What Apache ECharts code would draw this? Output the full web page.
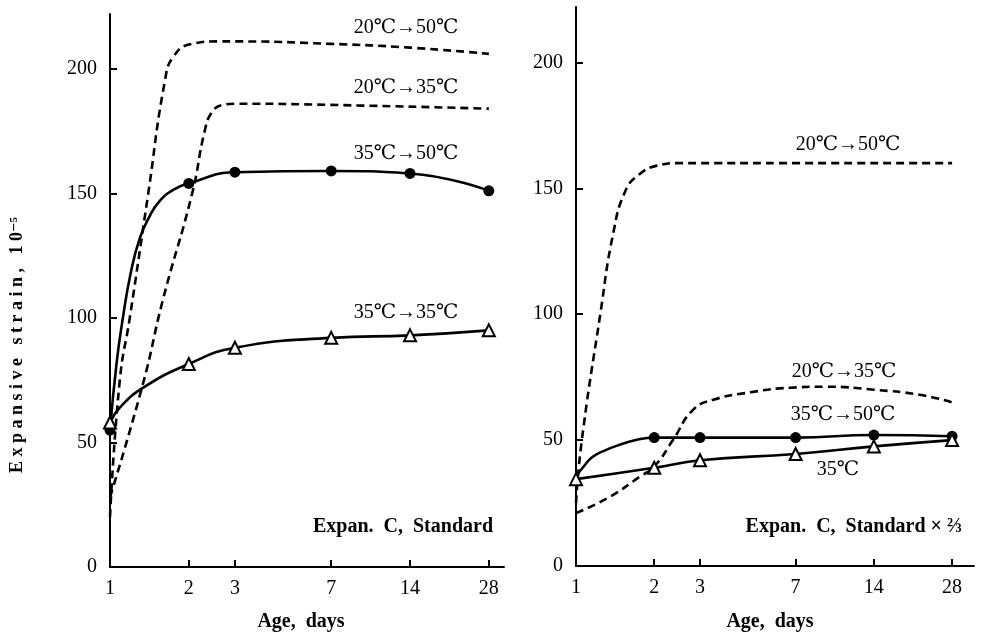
<!DOCTYPE html>
<html><head><meta charset="utf-8">
<script src="https://cdn.jsdelivr.net/npm/echarts@6/dist/echarts.min.js"></script>
<style>html,body{margin:0;padding:0;background:#fff}#c{width:982px;height:635px}</style>
</head><body><div id="c"></div>
<script>
// Tick values
const xTicks = [1, 2, 3, 7, 14, 28];
const yTicks = [0, 50, 100, 150, 200];

// Left panel: Expan. C, Standard   [age (days), strain]
const L_20_50 = [[1,20],[1.09,75],[1.19,100],[1.4,150],[1.62,195],[1.75,205],[2.05,210],[2.6,211],[3,211],[7,210],[14,208.5],[28,206]];
const L_20_35 = [[1,28],[1.34,74],[1.59,107],[2.06,150],[2.3,175],[2.45,182.5],[2.7,185.5],[3,186],[7,185.5],[28,184]];
const L_35_50_curve = [[1,55],[1.06,82],[1.12,100],[1.2,118],[1.3,132],[1.42,141],[1.55,147],[1.75,151.5],[2,154],[3,158.5],[7,159],[14,158],[28,151]];
const L_35_50_pts = [[1,55],[2,154],[3,158.5],[7,159],[14,158],[28,151]];
const L_35_35_curve = [[1,58],[1.09,64],[1.34,72],[2,81.5],[3,88],[7,92],[14,93],[28,95]];
const L_35_35_pts = [[1,58],[2,81.5],[3,88],[7,92],[14,93],[28,95]];

// Right panel: Expan. C, Standard x 2/3
const R_20_50 = [[1,25],[1.05,49],[1.24,100],[1.39,132],[1.55,149],[1.75,155.5],[2.05,159],[2.5,160],[3,160],[7,160],[28,160]];
const R_20_35 = [[1,21],[1.35,27.5],[1.76,35.5],[2,39.5],[2.36,50],[2.82,62],[3.37,66],[4.7,69],[6.7,70.8],[9.2,71.2],[14,70],[21,68],[28,65]];
const R_35_50_curve = [[1,35.5],[1.08,40],[1.16,43.4],[1.3,46],[1.44,47.8],[1.7,50],[2,51],[3,51],[7,51],[14,52],[28,51.5]];
const R_35_50_pts = [[2,51],[3,51],[7,51],[14,52],[28,51.5]];
const R_35_pts = [[1,34.5],[2,39],[3,42],[7,44.5],[14,47.5],[28,50]];

const FONT = "'Liberation Serif','DejaVu Serif','Noto Sans CJK JP',serif";
const chart = echarts.init(document.getElementById('c'), null, {renderer:'canvas'});

function xAxis(gi, max) {
  return {
    type: 'log', logBase: 10, gridIndex: gi, min: 1, max: max,
    axisLine: {show: true, lineStyle: {color: '#000', width: 2}},
    axisTick: {show: true, inside: true, length: 7, lineStyle: {color: '#000', width: 2}, customValues: xTicks},
    axisLabel: {show: true, customValues: xTicks, color: '#000', fontFamily: FONT, fontSize: 20, margin: 12},
    splitLine: {show: false}, minorTick: {show: false}
  };
}
function yAxis(gi) {
  return {
    type: 'value', gridIndex: gi, min: 0, max: 222,
    axisLine: {show: true, lineStyle: {color: '#000', width: 2}},
    axisTick: {show: true, inside: true, length: 7, lineStyle: {color: '#000', width: 2}, customValues: yTicks},
    axisLabel: {show: true, customValues: yTicks, color: '#000', fontFamily: FONT, fontSize: 20, margin: 13},
    splitLine: {show: false}
  };
}
function dashed(data, xi) {
  return {type: 'line', xAxisIndex: xi, yAxisIndex: xi, data: data, smooth: 0.5, showSymbol: false, symbol: 'none',
    lineStyle: {color: '#000', width: 2.6, type: [8, 5]}, z: 2, silent: true};
}
function solid(data, xi) {
  return {type: 'line', xAxisIndex: xi, yAxisIndex: xi, data: data, smooth: 0.5, showSymbol: false, symbol: 'none',
    lineStyle: {color: '#000', width: 2.6}, z: 3, silent: true};
}
function dots(data, xi) {
  return {type: 'scatter', xAxisIndex: xi, yAxisIndex: xi, data: data, symbol: 'circle', symbolSize: 11,
    itemStyle: {color: '#000', opacity: 1}, z: 5, silent: true};
}
function tris(data, xi) {
  return {type: 'scatter', xAxisIndex: xi, yAxisIndex: xi, data: data, symbol: 'triangle', symbolSize: 12,
    itemStyle: {color: '#fff', borderColor: '#000', borderWidth: 2, opacity: 1}, z: 5, silent: true};
}
function txt(x, y, s, opts) {
  return {type: 'text', x: x, y: y, style: Object.assign({text: s, fill: '#000', font: '20px ' + FONT, align: 'center', verticalAlign: 'middle'}, opts || {})};
}

const option = {
  backgroundColor: '#fff',
  animation: false,
  grid: [
    {left: 110, top: 14, width: 394, height: 553},
    {left: 576, top: 7, width: 398, height: 559}
  ],
  xAxis: [xAxis(0, 32), xAxis(1, 34)],
  yAxis: [yAxis(0), yAxis(1)],
  series: [
    dashed(L_20_50, 0), dashed(L_20_35, 0),
    solid(L_35_50_curve, 0), dots(L_35_50_pts, 0),
    solid(L_35_35_curve, 0), tris(L_35_35_pts, 0),
    dashed(R_20_50, 1), dashed(R_20_35, 1),
    solid(R_35_50_curve, 1), dots(R_35_50_pts, 1),
    solid(R_35_pts, 1), tris(R_35_pts, 1)
  ],
  graphic: [
    txt(406, 28, '20℃→50℃'),
    txt(406, 88, '20℃→35℃'),
    txt(406, 154, '35℃→50℃'),
    txt(406, 313, '35℃→35℃'),
    txt(493, 527, 'Expan.  C,  Standard', {align: 'right', font: 'bold 20px ' + FONT}),
    txt(301, 622, 'Age,  days', {font: 'bold 20px ' + FONT}),
    txt(848, 145, '20℃→50℃'),
    txt(844, 372, '20℃→35℃'),
    txt(843, 415, '35℃→50℃'),
    txt(838, 470, '35℃'),
    txt(962, 527, 'Expan.  C,  Standard × ⅔', {align: 'right', font: 'bold 20px ' + FONT}),
    txt(770, 622, 'Age,  days', {font: 'bold 20px ' + FONT}),
    {type: 'text', x: 17, y: 345, rotation: Math.PI / 2,
      style: {text: 'E x p a n s i v e   s t r a i n ,   1 0⁻⁵', fill: '#000', font: 'bold 18px ' + FONT, align: 'center', verticalAlign: 'middle'}}
  ]
};
chart.setOption(option);
</script>
</body></html>
